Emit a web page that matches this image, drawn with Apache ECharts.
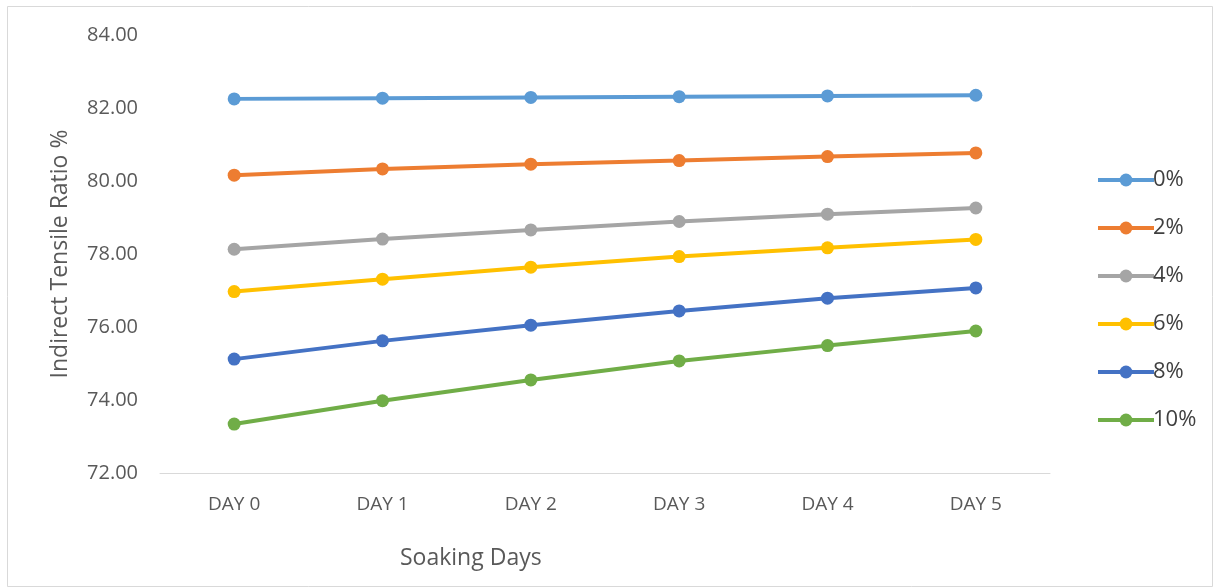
<!DOCTYPE html>
<html>
<head>
<meta charset="utf-8">
<script src="https://cdn.jsdelivr.net/npm/echarts@6/dist/echarts.min.js"></script>
<style>
    html, body { margin: 0; padding: 0; background: #fff; }
    #chart { width: 1218px; height: 587px; }
</style>
</head>
<body>
<div id="chart"></div>
<script>
// soaking days on the x axis
var days = ['DAY 0', 'DAY 1', 'DAY 2', 'DAY 3', 'DAY 4', 'DAY 5'];

// indirect tensile ratio per additive content
var names = ['0%', '2%', '4%', '6%', '8%', '10%'];
var v0 = [82.25, 82.27, 82.29, 82.31, 82.33, 82.35];
var v2 = [80.16, 80.33, 80.46, 80.56, 80.67, 80.77];
var v4 = [78.13, 78.41, 78.66, 78.89, 79.09, 79.26];
var v6 = [76.97, 77.31, 77.64, 77.93, 78.17, 78.40];
var v8 = [75.12, 75.62, 76.05, 76.44, 76.79, 77.07];
var v10 = [73.34, 73.98, 74.55, 75.07, 75.49, 75.89];

var colors = ['#5B9BD5', '#ED7D31', '#A5A5A5', '#FFC000', '#4472C4', '#70AD47'];
var allValues = [v0, v2, v4, v6, v8, v10];

var font = 'Open Sans';

var series = [];
for (var i = 0; i < names.length; i++) {
    series.push({
        name: names[i],
        type: 'line',
        data: allValues[i],
        symbol: 'circle',
        symbolSize: 13,
        lineStyle: {width: 4, color: colors[i]},
        itemStyle: {color: colors[i]}
    });
}

var chart = echarts.init(document.getElementById('chart'));

var option = {
    animation: false,
    backgroundColor: '#fff',
    color: colors,
    textStyle: {fontFamily: font},
    grid: {
        left: 160,
        right: 168,
        top: 35,
        bottom: 114
    },
    legend: {
        orient: 'vertical',
        left: 1091,
        top: 164,
        itemWidth: 56,
        itemHeight: 16,
        itemGap: 26,
        data: names,
        lineStyle: {width: 4},
        textStyle: {fontSize: 22, color: '#404040', fontFamily: font, padding: [0, 0, 0, -6]}
    },
    xAxis: {
        type: 'category',
        data: days,
        boundaryGap: true,
        axisLine: {lineStyle: {color: '#D9D9D9', width: 1}},
        axisTick: {show: false},
        axisLabel: {color: '#595959', fontSize: 19, margin: 22, fontFamily: font}
    },
    yAxis: {
        type: 'value',
        min: 72,
        max: 84,
        interval: 2,
        name: 'Indirect Tensile Ratio %',
        nameLocation: 'middle',
        nameGap: 88,
        nameTextStyle: {color: '#595959', fontSize: 23, fontFamily: font},
        axisLine: {show: false},
        axisTick: {show: false},
        splitLine: {show: false},
        axisLabel: {
            color: '#595959',
            fontSize: 20,
            margin: 22,
            fontFamily: font,
            formatter: function (v) { return v.toFixed(2); }
        }
    },
    graphic: [
        {
            type: 'rect',
            shape: {x: 7.5, y: 6.5, width: 1205, height: 580},
            style: {fill: 'none', stroke: '#D9D9D9', lineWidth: 1},
            silent: true
        },
        {
            type: 'text',
            left: 400,
            top: 547,
            style: {text: 'Soaking Days', fill: '#595959', fontSize: 23, fontFamily: font}
        }
    ],
    series: series
};

chart.setOption(option);
</script>
</body>
</html>
